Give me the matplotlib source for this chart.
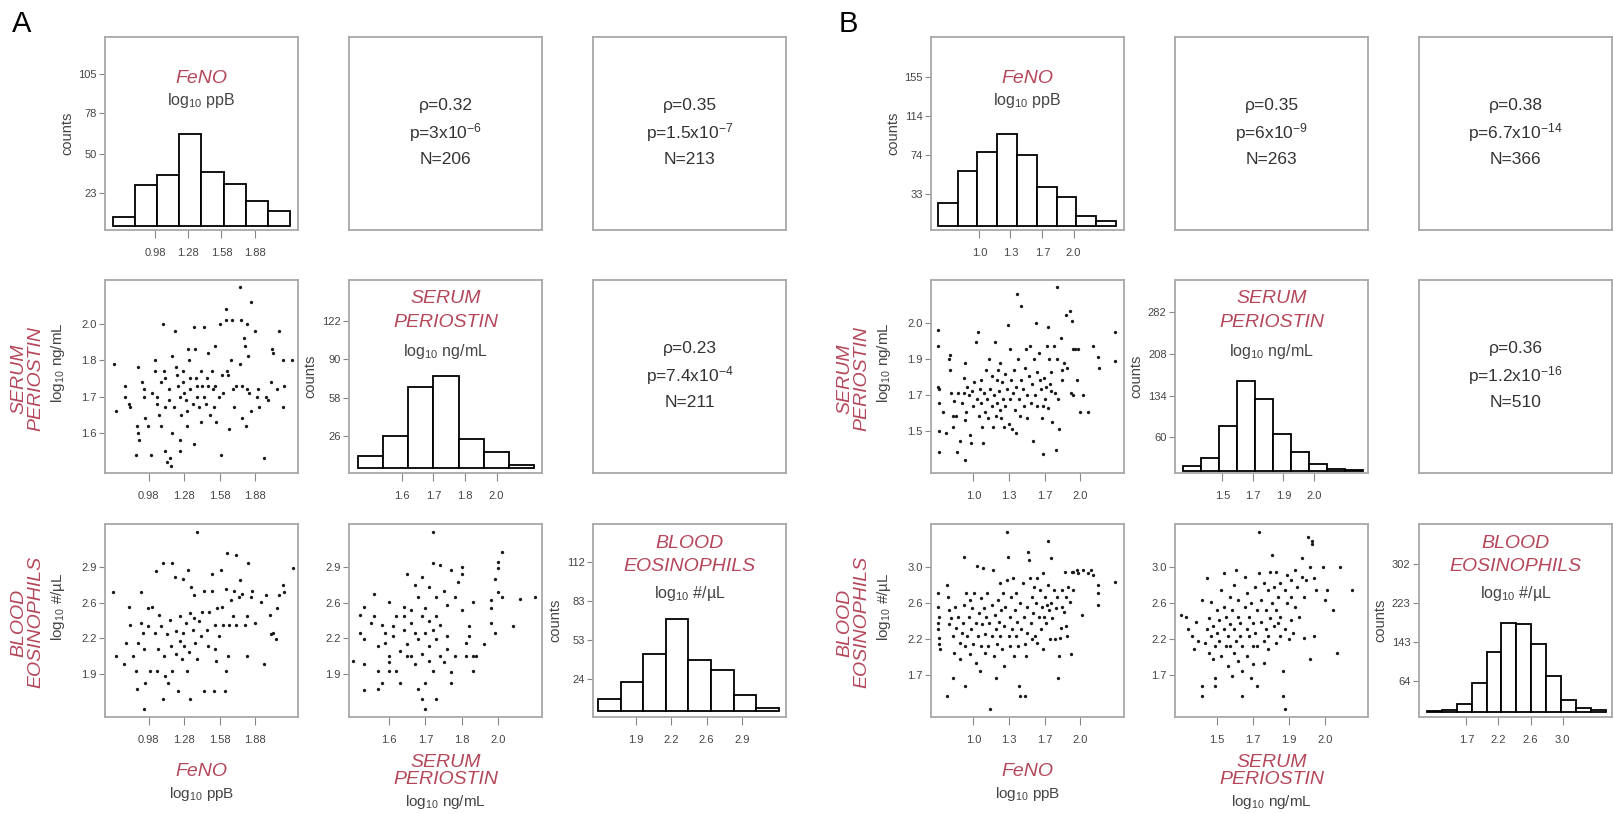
"""
Scatter-matrix of FeNO, serum periostin and blood eosinophils (panels A and B).
Diagonal: histograms, lower triangle: scatter, upper triangle: Spearman stats.
"""

import numpy as np
import matplotlib
matplotlib.use("Agg")
import matplotlib.pyplot as plt

plt.rcParams["font.family"] = ["Liberation Sans", "DejaVu Sans"]
plt.rcParams["mathtext.default"] = "regular"

RED = "#b5475b"
GREY = "#444444"
FRAME = "#a8a8a8"
W, H = 1613, 814

# ---------------------------------------------------------------- panel A data
A_FENO_EDGES = [0.6, 0.8, 1.0, 1.2, 1.4, 1.6, 1.8, 2.0, 2.2]
A_FENO_COUNTS = [6, 28, 35, 64, 37, 29, 17, 10]
A_PERI_EDGES = [1.46, 1.54, 1.62, 1.70, 1.78, 1.86, 1.94, 2.02]
A_PERI_COUNTS = [10, 26, 67, 76, 24, 13, 2]
A_EOS_EDGES = [1.5, 1.725, 1.95, 2.175, 2.4, 2.625, 2.85, 3.075, 3.3]
A_EOS_COUNTS = [9, 22, 43, 69, 38, 31, 12, 2]

A_STATS = [("0.32", "3", "-6", "206"), ("0.35", "1.5", "-7", "213"), ("0.23", "7.4", "-4", "211")]

# FeNO (x) vs periostin (y)
A_FENO_PERI = [
    (0.69, 1.79), (0.70, 1.66), (0.78, 1.73), (0.78, 1.70), (0.81, 1.68), (0.82, 1.67), (0.87, 1.54),
    (0.89, 1.78), (0.88, 1.62), (0.89, 1.60), (0.90, 1.58), (0.92, 1.74), (0.94, 1.72), (0.94, 1.70),
    (0.95, 1.64), (0.97, 1.62), (1.00, 1.54), (1.01, 1.71), (1.03, 1.77), (1.03, 1.80), (1.05, 1.70),
    (1.05, 1.68), (1.07, 1.65), (1.08, 1.74), (1.08, 1.62), (1.10, 1.90), (1.11, 1.77), (1.12, 1.75),
    (1.12, 1.67), (1.12, 1.55), (1.13, 1.52), (1.15, 1.72), (1.15, 1.69), (1.16, 1.53), (1.17, 1.51),
    (1.18, 1.81), (1.18, 1.60), (1.19, 1.67), (1.20, 1.88), (1.21, 1.78), (1.22, 1.76), (1.23, 1.73),
    (1.24, 1.70), (1.24, 1.58), (1.24, 1.55), (1.25, 1.65), (1.27, 1.77), (1.27, 1.74), (1.28, 1.71),
    (1.29, 1.69), (1.30, 1.62), (1.30, 1.66), (1.31, 1.83), (1.32, 1.80), (1.33, 1.75), (1.33, 1.72),
    (1.35, 1.68), (1.36, 1.89), (1.36, 1.57), (1.37, 1.83), (1.38, 1.75), (1.39, 1.73), (1.39, 1.70),
    (1.40, 1.67), (1.42, 1.77), (1.42, 1.63), (1.43, 1.73), (1.45, 1.89), (1.45, 1.70), (1.46, 1.68),
    (1.47, 1.75), (1.48, 1.82), (1.48, 1.73), (1.50, 1.65), (1.51, 1.77), (1.52, 1.72), (1.53, 1.67),
    (1.54, 1.84), (1.54, 1.73), (1.55, 1.63), (1.57, 1.70), (1.58, 1.90), (1.59, 1.54), (1.60, 1.76),
    (1.61, 1.71), (1.63, 1.94), (1.63, 1.91), (1.64, 1.77), (1.65, 1.76), (1.66, 1.61), (1.67, 1.80),
    (1.68, 1.91), (1.69, 1.72), (1.70, 1.67), (1.72, 1.73), (1.75, 2.00), (1.75, 1.79), (1.76, 1.91),
    (1.77, 1.64), (1.77, 1.73), (1.78, 1.86), (1.79, 1.84), (1.80, 1.62), (1.81, 1.90), (1.81, 1.72),
    (1.82, 1.81), (1.83, 1.71), (1.84, 1.96), (1.84, 1.66), (1.88, 1.88), (1.89, 1.70), (1.90, 1.72),
    (1.91, 1.67), (1.95, 1.53), (1.97, 1.70), (1.99, 1.69), (2.01, 1.74), (2.02, 1.83), (2.03, 1.82),
    (2.06, 1.72), (2.08, 1.88), (2.11, 1.67), (2.11, 1.80), (2.12, 1.73), (2.19, 1.80),
]

# FeNO (x) vs eosinophils (y)
A_FENO_EOS = [
    (0.68, 2.69), (0.70, 2.05), (0.77, 1.97), (0.79, 2.18), (0.81, 2.54), (0.82, 2.36), (0.85, 2.05),
    (0.87, 1.91), (0.88, 1.73), (0.89, 2.18), (0.91, 2.69), (0.91, 2.38), (0.93, 2.28), (0.94, 2.12),
    (0.94, 1.53), (0.95, 1.79), (0.97, 2.53), (0.97, 2.35), (0.99, 1.91), (1.01, 2.54), (1.03, 2.28),
    (1.04, 2.89), (1.05, 1.91), (1.06, 2.12), (1.07, 2.46), (1.08, 2.35), (1.10, 2.97), (1.10, 1.63),
    (1.11, 2.05), (1.12, 1.86), (1.13, 2.27), (1.14, 1.79), (1.16, 2.41), (1.17, 2.15), (1.18, 2.97),
    (1.18, 1.91), (1.20, 2.84), (1.21, 2.30), (1.21, 2.07), (1.23, 1.71), (1.24, 2.45), (1.24, 2.20),
    (1.26, 2.02), (1.27, 2.82), (1.27, 2.28), (1.28, 2.15), (1.29, 2.38), (1.30, 1.91), (1.31, 2.90),
    (1.32, 2.09), (1.33, 2.48), (1.33, 1.63), (1.34, 2.74), (1.35, 2.31), (1.36, 2.66), (1.36, 2.43),
    (1.37, 2.18), (1.39, 3.28), (1.39, 2.02), (1.40, 2.40), (1.42, 2.25), (1.43, 2.49), (1.45, 2.70),
    (1.45, 1.71), (1.47, 2.31), (1.48, 2.15), (1.49, 2.49), (1.51, 2.87), (1.51, 2.70), (1.53, 1.71),
    (1.54, 2.36), (1.54, 2.12), (1.55, 2.00), (1.56, 2.53), (1.57, 2.25), (1.59, 2.90), (1.60, 2.54),
    (1.61, 2.36), (1.62, 1.71), (1.63, 2.72), (1.63, 1.91), (1.64, 3.07), (1.65, 2.05), (1.66, 2.36),
    (1.67, 2.61), (1.69, 2.45), (1.70, 2.70), (1.72, 2.36), (1.72, 3.05), (1.74, 2.64), (1.75, 2.81),
    (1.77, 2.67), (1.79, 2.36), (1.81, 2.05), (1.81, 2.45), (1.82, 2.97), (1.84, 2.64), (1.85, 2.70),
    (1.88, 2.38), (1.93, 2.59), (1.95, 1.97), (1.97, 2.66), (2.00, 2.46), (2.01, 2.27), (2.03, 2.28),
    (2.05, 2.22), (2.06, 2.53), (2.08, 2.66), (2.11, 2.76), (2.12, 2.69), (2.20, 2.92),
]

# periostin (x) vs eosinophils (y)
A_PERI_EOS = [
    (1.50, 2.00), (1.52, 2.46), (1.52, 2.28), (1.53, 2.22), (1.53, 1.97), (1.53, 1.72), (1.53, 2.54),
    (1.55, 2.38), (1.56, 2.67), (1.56, 2.45), (1.57, 2.15), (1.57, 1.73), (1.57, 1.91), (1.58, 1.79),
    (1.58, 2.36), (1.59, 2.28), (1.59, 2.18), (1.60, 2.05), (1.60, 1.91), (1.60, 1.99), (1.60, 2.59),
    (1.61, 2.35), (1.61, 2.25), (1.62, 2.45), (1.62, 1.91), (1.63, 2.10), (1.63, 1.79), (1.64, 2.54),
    (1.64, 2.45), (1.64, 2.31), (1.65, 2.05), (1.65, 2.17), (1.65, 2.87), (1.66, 2.38), (1.66, 2.05),
    (1.66, 2.51), (1.67, 2.76), (1.67, 2.28), (1.67, 1.97), (1.68, 1.73), (1.68, 2.64), (1.68, 2.22),
    (1.69, 2.84), (1.69, 2.45), (1.69, 2.07), (1.69, 1.63), (1.70, 1.79), (1.70, 2.28), (1.70, 1.53),
    (1.70, 2.53), (1.71, 2.40), (1.71, 2.00), (1.71, 2.74), (1.71, 2.15), (1.72, 3.28), (1.72, 2.97),
    (1.72, 2.31), (1.72, 1.91), (1.73, 2.45), (1.73, 1.63), (1.73, 2.64), (1.73, 2.22), (1.74, 2.05),
    (1.74, 2.95), (1.74, 2.36), (1.75, 2.70), (1.75, 1.99), (1.76, 2.56), (1.76, 2.25), (1.76, 2.12),
    (1.77, 2.90), (1.77, 1.90), (1.77, 1.79), (1.78, 2.64), (1.78, 2.05), (1.79, 2.79), (1.80, 2.87),
    (1.80, 2.51), (1.80, 2.93), (1.81, 2.05), (1.81, 2.18), (1.82, 2.35), (1.82, 2.25), (1.83, 2.05),
    (1.83, 1.91), (1.83, 2.59), (1.84, 2.05), (1.86, 2.17), (1.88, 2.61), (1.88, 2.38), (1.88, 2.53),
    (1.89, 2.82), (1.89, 2.28), (1.90, 2.92), (1.90, 2.98), (1.90, 2.69), (1.91, 3.08), (1.91, 2.64),
    (1.94, 2.35), (1.96, 2.62), (2.00, 2.64),
]

# ---------------------------------------------------------------- panel B data
B_FENO_EDGES = [0.56, 0.77, 0.98, 1.19, 1.40, 1.61, 1.82, 2.03, 2.24, 2.45]
B_FENO_COUNTS = [24, 57, 77, 96, 74, 41, 30, 11, 5]
B_PERI_EDGES = [1.3, 1.4, 1.5, 1.6, 1.7, 1.8, 1.9, 2.0, 2.1, 2.2, 2.3]
B_PERI_COUNTS = [9, 23, 80, 160, 129, 66, 34, 13, 4, 2]
B_EOS_EDGES = [1.2, 1.4, 1.6, 1.8, 2.0, 2.2, 2.4, 2.6, 2.8, 3.0, 3.2, 3.4, 3.6]
B_EOS_COUNTS = [2, 5, 17, 59, 122, 182, 180, 138, 74, 24, 8, 4]

B_STATS = [("0.35", "6", "-9", "263"), ("0.38", "6.7", "-14", "366"), ("0.36", "1.2", "-16", "510")]

B_FENO_PERI = [
    (0.67, 2.00), (0.67, 1.92), (0.67, 1.73), (0.68, 1.72), (0.68, 1.65), (0.68, 1.52), (0.68, 1.42),
    (0.72, 1.61), (0.74, 1.51), (0.77, 1.86), (0.78, 1.88), (0.78, 1.81), (0.79, 1.70), (0.81, 1.54),
    (0.81, 1.59), (0.82, 1.66), (0.84, 1.59), (0.85, 1.42), (0.86, 1.70), (0.87, 1.47), (0.89, 1.65),
    (0.91, 1.77), (0.91, 1.70), (0.92, 1.38), (0.92, 1.84), (0.92, 1.57), (0.93, 1.61), (0.94, 1.73),
    (0.96, 1.69), (0.97, 1.50), (0.98, 1.46), (0.99, 1.71), (1.00, 1.64), (1.01, 1.75), (1.02, 1.94),
    (1.03, 1.67), (1.04, 1.99), (1.05, 1.59), (1.06, 1.72), (1.07, 1.76), (1.07, 1.65), (1.08, 1.54),
    (1.09, 1.46), (1.10, 1.70), (1.11, 1.61), (1.12, 1.81), (1.13, 1.67), (1.14, 1.58), (1.15, 1.86),
    (1.16, 1.72), (1.17, 1.64), (1.17, 1.78), (1.18, 1.54), (1.19, 1.69), (1.20, 1.94), (1.21, 1.59),
    (1.22, 1.76), (1.22, 1.65), (1.23, 1.81), (1.24, 1.71), (1.25, 1.62), (1.25, 1.84), (1.26, 1.58),
    (1.27, 1.75), (1.28, 1.67), (1.29, 1.54), (1.30, 1.79), (1.30, 1.64), (1.31, 1.72), (1.32, 2.02),
    (1.33, 1.55), (1.34, 1.91), (1.34, 1.67), (1.35, 1.76), (1.36, 1.53), (1.37, 1.70), (1.38, 1.81),
    (1.39, 1.62), (1.40, 1.51), (1.40, 1.73), (1.41, 2.17), (1.42, 1.86), (1.43, 1.67), (1.44, 1.59),
    (1.45, 1.76), (1.45, 2.11), (1.46, 1.72), (1.47, 1.64), (1.48, 1.82), (1.49, 1.91), (1.50, 1.69),
    (1.50, 1.58), (1.52, 1.78), (1.53, 1.92), (1.54, 1.65), (1.55, 1.74), (1.56, 1.47), (1.57, 1.86),
    (1.58, 1.69), (1.59, 2.03), (1.60, 1.80), (1.60, 1.64), (1.61, 1.89), (1.62, 1.76), (1.63, 1.72),
    (1.64, 1.58), (1.65, 1.64), (1.65, 1.41), (1.66, 1.77), (1.67, 1.67), (1.68, 1.73), (1.69, 1.92),
    (1.70, 1.63), (1.70, 2.01), (1.71, 1.86), (1.72, 1.74), (1.73, 1.80), (1.73, 1.71), (1.74, 1.56),
    (1.75, 1.92), (1.76, 1.70), (1.77, 1.43), (1.78, 2.20), (1.78, 1.86), (1.79, 1.67), (1.80, 1.53),
    (1.82, 1.96), (1.83, 1.81), (1.83, 1.76), (1.85, 1.84), (1.87, 2.07), (1.88, 1.82), (1.90, 2.09),
    (1.91, 1.70), (1.92, 2.04), (1.93, 1.91), (1.93, 1.69), (1.95, 1.91), (1.97, 1.76), (1.98, 1.91),
    (2.00, 1.61), (2.03, 1.69), (2.07, 1.61), (2.12, 1.92), (2.17, 1.87), (2.18, 1.82), (2.33, 1.99),
    (2.33, 1.85),
]

B_FENO_EOS = [
    (0.67, 2.71), (0.67, 2.55), (0.67, 2.36), (0.67, 2.28), (0.68, 2.18), (0.68, 2.10), (0.68, 2.43),
    (0.69, 2.04), (0.75, 2.81), (0.75, 1.48), (0.76, 2.67), (0.77, 2.51), (0.77, 2.34), (0.79, 2.41),
    (0.81, 2.20), (0.81, 1.70), (0.82, 2.00), (0.83, 2.55), (0.84, 2.30), (0.86, 2.43), (0.87, 2.12),
    (0.87, 1.92), (0.89, 2.24), (0.90, 2.36), (0.91, 3.15), (0.91, 2.57), (0.92, 1.60), (0.92, 2.08),
    (0.93, 2.71), (0.94, 2.20), (0.96, 2.43), (0.97, 1.98), (0.97, 2.63), (0.98, 2.28), (0.99, 2.53),
    (1.00, 2.10), (1.01, 2.71), (1.02, 2.36), (1.02, 1.88), (1.03, 3.04), (1.04, 2.20), (1.05, 2.47),
    (1.06, 1.78), (1.07, 2.65), (1.07, 2.08), (1.08, 2.34), (1.09, 3.01), (1.10, 2.53), (1.11, 2.00),
    (1.11, 2.22), (1.12, 2.43), (1.13, 2.71), (1.14, 2.08), (1.15, 2.36), (1.16, 1.33), (1.17, 2.57),
    (1.17, 2.20), (1.18, 2.99), (1.19, 1.96), (1.20, 2.45), (1.21, 2.28), (1.21, 1.70), (1.22, 2.10),
    (1.23, 2.63), (1.24, 2.37), (1.25, 2.83), (1.25, 2.20), (1.26, 2.51), (1.27, 2.04), (1.28, 2.71),
    (1.29, 2.32), (1.29, 1.84), (1.30, 2.55), (1.31, 2.87), (1.31, 3.44), (1.32, 3.15), (1.33, 2.20),
    (1.34, 2.43), (1.34, 2.08), (1.35, 2.67), (1.36, 2.28), (1.37, 2.89), (1.38, 1.96), (1.39, 2.51),
    (1.40, 2.20), (1.40, 2.71), (1.41, 2.37), (1.42, 2.08), (1.43, 1.60), (1.44, 2.59), (1.44, 1.48),
    (1.45, 2.28), (1.46, 2.83), (1.47, 2.43), (1.48, 1.48), (1.48, 2.10), (1.49, 1.96), (1.50, 2.24),
    (1.50, 2.55), (1.51, 3.21), (1.52, 3.11), (1.53, 2.89), (1.54, 2.36), (1.55, 2.16), (1.55, 2.67),
    (1.56, 2.47), (1.57, 2.79), (1.58, 2.20), (1.59, 2.59), (1.60, 2.89), (1.60, 2.12), (1.61, 2.43),
    (1.62, 2.75), (1.63, 2.28), (1.64, 2.55), (1.65, 2.04), (1.65, 2.95), (1.66, 2.43), (1.67, 2.67),
    (1.68, 2.36), (1.69, 2.57), (1.70, 3.34), (1.70, 2.81), (1.71, 2.51), (1.72, 2.16), (1.73, 3.13),
    (1.73, 2.59), (1.74, 2.41), (1.75, 2.75), (1.76, 2.16), (1.77, 2.53), (1.78, 2.67), (1.79, 1.70),
    (1.80, 1.96), (1.81, 2.18), (1.82, 2.30), (1.83, 2.75), (1.83, 2.55), (1.85, 2.49), (1.86, 2.97),
    (1.87, 2.67), (1.87, 2.32), (1.88, 2.20), (1.89, 2.79), (1.90, 2.61), (1.91, 1.99), (1.92, 2.97),
    (1.93, 2.75), (1.93, 2.97), (1.97, 2.99), (1.98, 2.95), (2.02, 2.45), (2.03, 2.99), (2.07, 2.95),
    (2.10, 2.99), (2.12, 2.93), (2.17, 2.81), (2.17, 2.57), (2.17, 2.71), (2.33, 2.85),
]

B_PERI_EOS = [
    (1.35, 2.45), (1.37, 2.43), (1.38, 2.28), (1.40, 2.20), (1.41, 2.04), (1.42, 2.37), (1.43, 2.14),
    (1.45, 2.63), (1.45, 1.60), (1.45, 1.48), (1.46, 2.12), (1.47, 2.89), (1.47, 2.28), (1.48, 2.41),
    (1.48, 2.00), (1.49, 2.20), (1.49, 2.61), (1.50, 1.92), (1.50, 2.32), (1.51, 1.70), (1.51, 1.60),
    (1.51, 2.08), (1.52, 2.51), (1.52, 2.24), (1.53, 2.39), (1.53, 2.14), (1.54, 2.75), (1.54, 1.96),
    (1.55, 2.55), (1.55, 2.28), (1.55, 2.95), (1.56, 2.08), (1.56, 2.43), (1.57, 1.84), (1.57, 2.20),
    (1.58, 2.67), (1.58, 2.34), (1.58, 2.08), (1.59, 1.72), (1.59, 2.51), (1.60, 2.00), (1.60, 2.81),
    (1.60, 2.28), (1.61, 2.99), (1.61, 2.14), (1.62, 2.43), (1.62, 1.90), (1.62, 2.63), (1.63, 2.20),
    (1.63, 2.36), (1.64, 1.78), (1.64, 1.48), (1.64, 2.08), (1.65, 2.55), (1.65, 2.91), (1.66, 2.28),
    (1.66, 1.96), (1.66, 2.71), (1.67, 2.43), (1.67, 2.20), (1.68, 1.70), (1.68, 2.59), (1.69, 2.08),
    (1.69, 2.36), (1.69, 1.86), (1.70, 2.79), (1.70, 2.24), (1.71, 2.51), (1.71, 1.60), (1.71, 2.08),
    (1.72, 3.44), (1.72, 2.95), (1.73, 2.37), (1.73, 2.63), (1.74, 2.14), (1.74, 1.88), (1.74, 2.83),
    (1.75, 2.28), (1.75, 2.51), (1.76, 2.04), (1.76, 2.75), (1.76, 2.20), (1.77, 2.41), (1.77, 2.97),
    (1.78, 2.59), (1.78, 3.17), (1.79, 2.32), (1.79, 2.79), (1.80, 2.12), (1.80, 2.51), (1.80, 2.97),
    (1.81, 2.36), (1.81, 2.67), (1.82, 2.20), (1.82, 2.83), (1.82, 2.43), (1.83, 1.78), (1.83, 1.48),
    (1.84, 2.75), (1.84, 2.28), (1.84, 1.33), (1.85, 2.59), (1.85, 2.93), (1.86, 2.16), (1.87, 2.39),
    (1.87, 2.87), (1.87, 2.67), (1.88, 2.24), (1.89, 2.99), (1.89, 2.55), (1.90, 2.79), (1.91, 2.43),
    (1.92, 2.91), (1.92, 3.13), (1.93, 2.67), (1.93, 2.18), (1.94, 2.87), (1.95, 3.38), (1.96, 3.03),
    (1.96, 1.92), (1.97, 3.34), (1.97, 3.30), (1.98, 2.89), (1.98, 2.20), (1.99, 2.75), (2.02, 3.03),
    (2.03, 2.63), (2.04, 2.75), (2.07, 2.51), (2.09, 2.00), (2.10, 3.03), (2.16, 2.75),
]

# ---------------------------------------------------------------- axis setup
# tick positions per variable and the labels printed in the figure
A_TICKS = {
    "feno": ([0.98, 1.28, 1.58, 1.88], ["0.98", "1.28", "1.58", "1.88"]),
    "peri": ([1.6, 1.7, 1.8, 1.9], ["1.6", "1.7", "1.8", "2.0"]),
    "eos": ([1.88, 2.23, 2.58, 2.93], ["1.9", "2.2", "2.6", "2.9"]),
}
B_TICKS = {
    "feno": ([1.0, 1.33, 1.67, 2.0], ["1.0", "1.3", "1.7", "2.0"]),
    "peri": ([1.52, 1.69, 1.86, 2.03], ["1.5", "1.7", "1.9", "2.0"]),
    "eos": ([1.73, 2.16, 2.59, 3.02], ["1.7", "2.2", "2.6", "3.0"]),
}
A_HIST_XLIM = {"feno": (0.53, 2.27), "peri": (1.433, 2.044), "eos": (1.45, 3.37)}
A_HIST_YLIM = {"feno": (-3, 131), "peri": (-4.4, 156), "eos": (-4.8, 141)}
A_HIST_YTICKS = {"feno": [23, 50, 78, 105], "peri": [26, 58, 90, 122], "eos": [24, 53, 83, 112]}
A_SCAT_LIM = {"feno": (0.61, 2.24), "peri": (1.49, 2.02), "eos": (1.45, 3.36)}

B_HIST_XLIM = {"feno": (0.487, 2.535), "peri": (1.257, 2.33), "eos": (1.096, 3.68)}
B_HIST_YLIM = {"feno": (-4, 196), "peri": (-3, 339), "eos": (-10, 383)}
B_HIST_YTICKS = {"feno": [33, 74, 114, 155], "peri": [60, 134, 208, 282], "eos": [64, 143, 223, 302]}
B_SCAT_LIM = {"feno": (0.603, 2.41), "peri": (1.32, 2.235), "eos": (1.23, 3.54)}

VARS = ["feno", "peri", "eos"]
NAMES = {"feno": ["FeNO"], "peri": ["SERUM", "PERIOSTIN"], "eos": ["BLOOD", "EOSINOPHILS"]}
UNITS = {"feno": "log$_{10}$ ppB", "peri": "log$_{10}$ ng/mL", "eos": "log$_{10}$ #/\u00b5L"}
# vertical placement (axes fraction) of the title lines inside the histograms
TITLE_Y = {"feno": ([0.785], 0.67), "peri": ([0.905, 0.778], 0.63), "eos": ([0.90, 0.78], 0.64)}

COL_LEFT = {"A": [105, 349, 593], "B": [931, 1175, 1419]}
ROW_TOP = [37, 280, 524]
SIZE = 193

fig = plt.figure(figsize=(W / 100, H / 100), dpi=100)


def add_ax(left, top):
    return fig.add_axes([left / W, 1 - (top + SIZE) / H, SIZE / W, SIZE / H])


def style(ax):
    for s in ax.spines.values():
        s.set_color(FRAME)
        s.set_linewidth(1.3)
    ax.tick_params(direction="out", length=4, width=0.8, color="#888888",
                   labelsize=8, labelcolor=GREY, pad=2)
    ax.tick_params(axis="x", length=6, pad=7)


def draw_panel(letter, hists, stats, scatters, ticks, hxlim, hylim, hyticks, slim):
    lefts = COL_LEFT[letter]
    fig.text((lefts[0] - 83) / W, 1 - 24 / H, letter, fontsize=21, ha="center", va="center")
    for r in range(3):
        for c in range(3):
            ax = add_ax(lefts[c], ROW_TOP[r])
            style(ax)
            if c > r:
                rho, mant, expo, n = stats[r + c - 1]
                ax.set_xticks([])
                ax.set_yticks([])
                kw = dict(transform=ax.transAxes, ha="center", va="center",
                          fontsize=12.5, color="#333333")
                ax.text(0.5, 0.645, "\u03c1=" + rho, **kw)
                ax.text(0.5, 0.505, "p=%sx10$^{%s}$" % (mant, expo), **kw)
                ax.text(0.5, 0.365, "N=" + n, **kw)
                continue
            v = VARS[c]
            ax.set_xticks(ticks[v][0], ticks[v][1])
            if r == c:
                edges, counts = hists[v]
                ax.bar(edges[:-1], counts, width=np.diff(edges), align="edge",
                       facecolor="white", edgecolor="black", linewidth=1.3)
                ax.set_xlim(hxlim[v])
                ax.set_ylim(hylim[v])
                ax.set_yticks(hyticks[v])
                ax.set_ylabel("counts", fontsize=10.5, color=GREY, labelpad=3)
                ys, yu = TITLE_Y[v]
                for name, y in zip(NAMES[v], ys):
                    ax.text(0.5, y, name, transform=ax.transAxes, ha="center", va="center",
                            fontsize=14, style="italic", color=RED)
                ax.text(0.5, yu, UNITS[v], transform=ax.transAxes, ha="center",
                        va="center", fontsize=11.5, color=GREY)
            else:
                vy = VARS[r]
                pts = np.array(scatters[(v, vy)])
                ax.plot(pts[:, 0], pts[:, 1], "o", ms=2.4, mew=0, color="#1a1a1a")
                ax.set_xlim(slim[v])
                ax.set_ylim(slim[vy])
                ax.set_yticks(ticks[vy][0], ticks[vy][1])
                if c == 0:
                    ax.text(-0.40, 0.49, "\n".join(NAMES[vy]), transform=ax.transAxes,
                            rotation=90, ha="center", va="center", fontsize=14,
                            style="italic", color=RED, linespacing=1.0)
                    ax.text(-0.245, 0.57, UNITS[vy], transform=ax.transAxes, rotation=90,
                            ha="center", va="center", fontsize=11, color=GREY)
            if r == 2 and c < 2:
                ax.text(0.5, -0.28, "\n".join(NAMES[v]), transform=ax.transAxes,
                        ha="center", va="center", fontsize=14, style="italic",
                        color=RED, linespacing=1.0)
                ax.text(0.5, -0.40 if c == 0 else -0.44, UNITS[v], transform=ax.transAxes,
                        ha="center", va="center", fontsize=11, color=GREY)


draw_panel(
    "A",
    {"feno": (A_FENO_EDGES, A_FENO_COUNTS), "peri": (A_PERI_EDGES, A_PERI_COUNTS),
     "eos": (A_EOS_EDGES, A_EOS_COUNTS)},
    A_STATS,
    {("feno", "peri"): A_FENO_PERI, ("feno", "eos"): A_FENO_EOS, ("peri", "eos"): A_PERI_EOS},
    A_TICKS, A_HIST_XLIM, A_HIST_YLIM, A_HIST_YTICKS, A_SCAT_LIM,
)
draw_panel(
    "B",
    {"feno": (B_FENO_EDGES, B_FENO_COUNTS), "peri": (B_PERI_EDGES, B_PERI_COUNTS),
     "eos": (B_EOS_EDGES, B_EOS_COUNTS)},
    B_STATS,
    {("feno", "peri"): B_FENO_PERI, ("feno", "eos"): B_FENO_EOS, ("peri", "eos"): B_PERI_EOS},
    B_TICKS, B_HIST_XLIM, B_HIST_YLIM, B_HIST_YTICKS, B_SCAT_LIM,
)

fig.savefig("out.png", dpi=100)
plt.close(fig)
